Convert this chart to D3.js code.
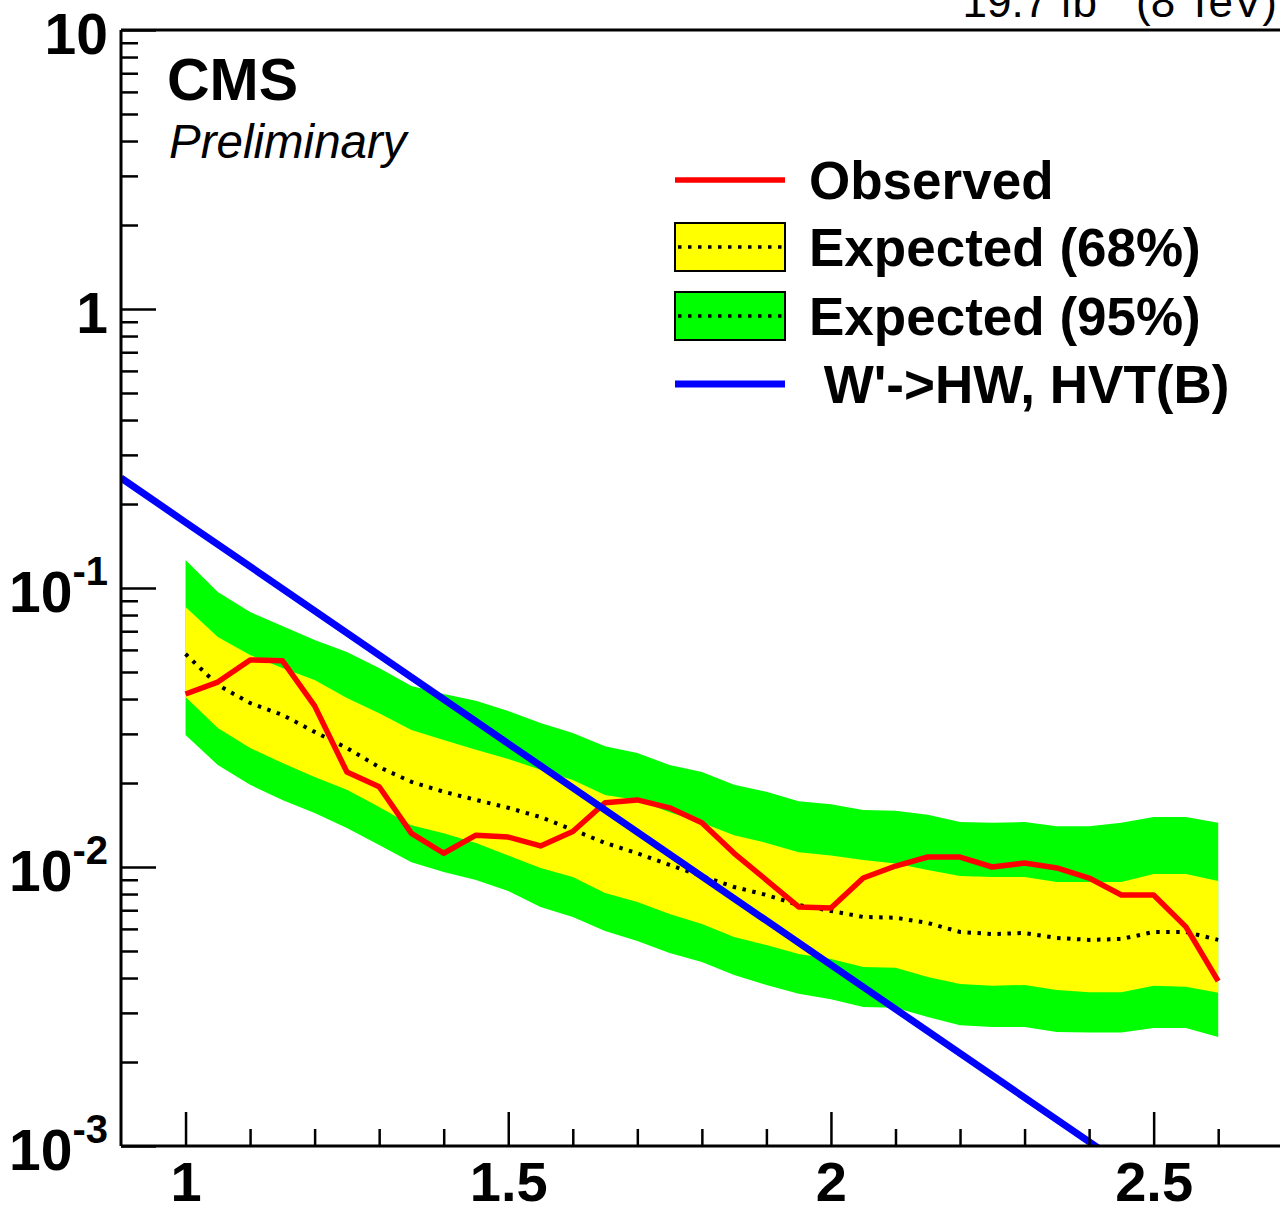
<!DOCTYPE html>
<html>
<head>
<meta charset="utf-8">
<script src="https://cdn.jsdelivr.net/npm/d3@7"></script>
<style>
  html, body { margin: 0; padding: 0; background: #fff; }
  svg { display: block; }
  text { font-family: "Liberation Sans", Arial, Helvetica, sans-serif; }
</style>
</head>
<body>
<div id="chart"></div>
<script>
// ---- data
var mass = [1.00, 1.05, 1.10, 1.15, 1.20, 1.25, 1.30, 1.35, 1.40, 1.45, 1.50,
            1.55, 1.60, 1.65, 1.70, 1.75, 1.80, 1.85, 1.90, 1.95, 2.00, 2.05,
            2.10, 2.15, 2.20, 2.25, 2.30, 2.35, 2.40, 2.45, 2.50, 2.55, 2.60];

var observed = [0.0417, 0.0460, 0.0552, 0.0549, 0.0378, 0.0219, 0.0194, 0.0132, 0.0112, 0.0130, 0.0128,
                0.0119, 0.0134, 0.0170, 0.0174, 0.0163, 0.0144, 0.0112, 0.00898, 0.00719, 0.00713, 0.00913,
                0.01008, 0.01086, 0.01086, 0.0100, 0.01033, 0.00992, 0.00913, 0.00794, 0.00794, 0.00610, 0.00390];

var expected = [0.0580, 0.0449, 0.0387, 0.0351, 0.0305, 0.0267, 0.0228, 0.0202, 0.0186, 0.0174, 0.0163,
                0.0151, 0.0136, 0.0122, 0.0112, 0.01017, 0.00928, 0.00848, 0.00794, 0.00731, 0.00696, 0.00662,
                0.00658, 0.00630, 0.00585, 0.00575, 0.00580, 0.00557, 0.00548, 0.00552, 0.00585, 0.00585, 0.00548];

var band68Up = [0.0855, 0.0667, 0.0575, 0.0517, 0.0468, 0.0403, 0.0356, 0.0310, 0.0285, 0.0263, 0.0244,
                0.0223, 0.0205, 0.0181, 0.0174, 0.0157, 0.0144, 0.0130, 0.0122, 0.0113, 0.0110, 0.0106,
                0.0103, 0.00976, 0.00928, 0.00921, 0.00921, 0.00884, 0.00884, 0.00884, 0.00944, 0.00944, 0.00891];

var band68Down = [0.0407, 0.0315, 0.0267, 0.0236, 0.0210, 0.0189, 0.0164, 0.0141, 0.0132, 0.0122, 0.0110,
                  0.00992, 0.00921, 0.00807, 0.00749, 0.00678, 0.00625, 0.00561, 0.00525, 0.00488, 0.00468, 0.00438,
                  0.00435, 0.00403, 0.00381, 0.00375, 0.00378, 0.00362, 0.00356, 0.00356, 0.00375, 0.00372, 0.00354];

var band95Up = [0.1260, 0.0968, 0.0820, 0.0731, 0.0651, 0.0590, 0.0517, 0.0445, 0.0417, 0.0394, 0.0362,
                0.0328, 0.0302, 0.0271, 0.0256, 0.0232, 0.0219, 0.0197, 0.0186, 0.0172, 0.0168, 0.0160,
                0.0159, 0.0154, 0.0145, 0.0144, 0.0145, 0.0140, 0.0140, 0.0144, 0.0151, 0.0151, 0.0144];

var band95Down = [0.0297, 0.0232, 0.0197, 0.0174, 0.0156, 0.0138, 0.0120, 0.0104, 0.00960, 0.00898, 0.00820,
                  0.00719, 0.00662, 0.00590, 0.00543, 0.00492, 0.00457, 0.00410, 0.00378, 0.00351, 0.00336, 0.00315,
                  0.00313, 0.00290, 0.00271, 0.00267, 0.00267, 0.00256, 0.00255, 0.00255, 0.00265, 0.00265, 0.00246];

// W' -> HW, HVT model B cross section
var theoryMass = [0.9, 1.0, 1.5, 2.0, 2.5];
var theoryXsec = [0.248, 0.172, 0.0277, 0.00446, 0.000719];

var xMajorTicks = [1, 1.5, 2, 2.5];
var xMinorTicks = [1.1, 1.2, 1.3, 1.4, 1.6, 1.7, 1.8, 1.9, 2.1, 2.2, 2.3, 2.4, 2.6, 2.7];
var yMajorTicks = [10, 1, 0.1, 0.01, 0.001];
var yTickExp = [1, 0, -1, -2, -3];

var legendLabels = ["Observed", "Expected (68%)", "Expected (95%)", "\u00a0W'->HW, HVT(B)"];

// ---- plotting set-up
var W = 1280, H = 1209;
var frame = {left: 121, top: 30, bottom: 1146, right: 1315};

var svg = d3.select("#chart")
    .append("svg")
      .attr("width", W)
      .attr("height", H);

var xScale = d3.scaleLinear()
    .domain([0.9, 2.75])
    .range([frame.left, frame.right]);

var yScale = d3.scaleLog()
    .domain([1e-3, 10])
    .range([frame.bottom, frame.top]);

svg.append("defs")
    .append("clipPath")
    .attr("id", "clip")
    .append("rect")
    .attr("x", frame.left)
    .attr("y", frame.top)
    .attr("width", frame.right - frame.left)
    .attr("height", frame.bottom - frame.top);

var plot = svg.append("g").attr("clip-path", "url(#clip)");

var rows = mass.map(function(m, i) {
  return {x: m, obs: observed[i], exp: expected[i],
          u1: band68Up[i], d1: band68Down[i], u2: band95Up[i], d2: band95Down[i]};
});

function band(lo, hi) {
  return d3.area()
    .x(d => xScale(d.x))
    .y0(d => yScale(d[lo]))
    .y1(d => yScale(d[hi]));
}

plot.append("path").datum(rows)
    .attr("d", band("d2", "u2"))
    .attr("fill", "#00ff00");

plot.append("path").datum(rows)
    .attr("d", band("d1", "u1"))
    .attr("fill", "#ffff00");

plot.append("path").datum(rows)
    .attr("d", d3.line().x(d => xScale(d.x)).y(d => yScale(d.exp)))
    .attr("fill", "none")
    .attr("stroke", "#000")
    .attr("stroke-width", 4)
    .attr("stroke-dasharray", "3.5,6.5");

plot.append("path").datum(rows)
    .attr("d", d3.line().x(d => xScale(d.x)).y(d => yScale(d.obs)))
    .attr("fill", "none")
    .attr("stroke", "#ff0000")
    .attr("stroke-width", 5.5)
    .attr("stroke-linejoin", "round");

var theory = theoryMass.map((m, i) => ({x: m, y: theoryXsec[i]}));
plot.append("path").datum(theory)
    .attr("d", d3.line().x(d => xScale(d.x)).y(d => yScale(d.y)))
    .attr("fill", "none")
    .attr("stroke", "#0000ff")
    .attr("stroke-width", 7);

// ---- axes
var axisStyle = function(g) {
  g.select(".domain").remove();
  g.selectAll("line").attr("stroke", "#000").attr("stroke-width", 2.5);
};

svg.append("g")
    .attr("transform", "translate(0," + frame.bottom + ")")
    .call(d3.axisBottom(xScale).tickValues(xMinorTicks).tickSize(-17).tickFormat(""))
    .call(axisStyle);

svg.append("g")
    .attr("transform", "translate(0," + frame.bottom + ")")
    .call(d3.axisBottom(xScale).tickValues(xMajorTicks).tickSize(-34).tickPadding(55)
            .tickFormat(d3.format("")))
    .call(axisStyle)
    .call(g => g.selectAll("text")
        .attr("fill", "#000")
        .attr("font-size", 56)
        .attr("font-weight", "bold")
        .attr("dy", 0));

var yMinor = [];
for (var e = -3; e < 1; e++) {
  [2, 3, 4, 5, 6, 7, 8, 9].forEach(k => yMinor.push(k * Math.pow(10, e)));
}

svg.append("g")
    .attr("transform", "translate(" + frame.left + ",0)")
    .call(d3.axisLeft(yScale).tickValues(yMinor).tickSize(-17).tickFormat(""))
    .call(axisStyle);

svg.append("g")
    .attr("transform", "translate(" + frame.left + ",0)")
    .call(d3.axisLeft(yScale).tickValues(yMajorTicks).tickSize(-35).tickFormat(""))
    .call(axisStyle);

// y tick labels written as powers of ten
var yLab = svg.append("g");
yMajorTicks.forEach(function(v, i) {
  var p = yTickExp[i];
  var t = yLab.append("text")
      .attr("x", 108)
      .attr("y", yScale(v) + 24)
      .attr("text-anchor", "end")
      .attr("font-size", 57)
      .attr("font-weight", "bold");
  if (p >= 0) {
    t.text(String(v));
  } else {
    t.append("tspan").text("10");
    t.append("tspan").attr("dy", -27).attr("font-size", 40).text(String(p));
  }
});

// frame lines
svg.append("line")
    .attr("x1", frame.left).attr("x2", frame.left)
    .attr("y1", frame.top).attr("y2", frame.bottom)
    .attr("stroke", "#000").attr("stroke-width", 3);
svg.append("line")
    .attr("x1", frame.left).attr("x2", frame.right)
    .attr("y1", frame.top).attr("y2", frame.top)
    .attr("stroke", "#000").attr("stroke-width", 3);
svg.append("line")
    .attr("x1", frame.left).attr("x2", frame.right)
    .attr("y1", frame.bottom).attr("y2", frame.bottom)
    .attr("stroke", "#000").attr("stroke-width", 3);

// ---- labels
svg.append("text")
    .attr("x", 167).attr("y", 100)
    .attr("font-size", 59).attr("font-weight", "bold")
    .text("CMS");

svg.append("text")
    .attr("x", 169).attr("y", 158)
    .attr("font-size", 47.5).attr("font-style", "italic")
    .text("Preliminary");

var lumi = svg.append("text")
    .attr("x", 1277).attr("y", 17)
    .attr("text-anchor", "end")
    .attr("font-size", 44);
lumi.append("tspan").text("19.7 fb");
lumi.append("tspan").attr("dy", -18).attr("font-size", 30).text("-1");
lumi.append("tspan").attr("dy", 18).text(" (8 TeV)");

// ---- legend
var leg = svg.append("g");
var rowY = [180, 247, 316, 384];
var sx0 = 675, sx1 = 785;

leg.append("line")
    .attr("x1", sx0).attr("x2", sx1).attr("y1", rowY[0]).attr("y2", rowY[0])
    .attr("stroke", "#ff0000").attr("stroke-width", 5.5);

[["#ffff00", rowY[1]], ["#00ff00", rowY[2]]].forEach(function(b) {
  leg.append("rect")
      .attr("x", sx0).attr("y", b[1] - 24)
      .attr("width", sx1 - sx0).attr("height", 48)
      .attr("fill", b[0]).attr("stroke", "#000").attr("stroke-width", 2);
  leg.append("line")
      .attr("x1", sx0 + 3).attr("x2", sx1 - 3).attr("y1", b[1]).attr("y2", b[1])
      .attr("stroke", "#000").attr("stroke-width", 3.5)
      .attr("stroke-dasharray", "3.5,6.5");
});

leg.append("line")
    .attr("x1", sx0).attr("x2", sx1).attr("y1", rowY[3]).attr("y2", rowY[3])
    .attr("stroke", "#0000ff").attr("stroke-width", 7);

legendLabels.forEach(function(l, i) {
  leg.append("text")
      .attr("x", 809).attr("y", rowY[i] + 19)
      .attr("font-size", 53).attr("font-weight", "bold")
      .text(l);
});
</script>
</body>
</html>
